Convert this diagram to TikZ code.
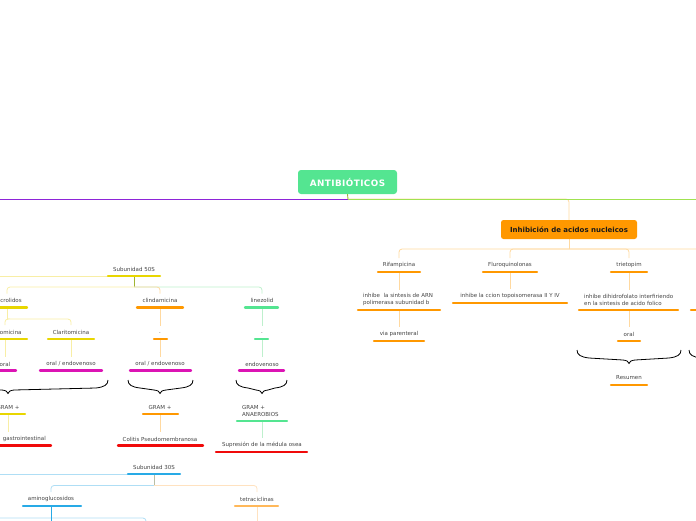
\documentclass[tikz,border=0pt]{standalone}
\usepackage{fontspec}
\setmainfont{DejaVu Sans}
\definecolor{rootg}{RGB}{84,229,145}
\definecolor{purp}{RGB}{142,36,216}
\definecolor{lgr}{RGB}{160,226,80}
\definecolor{oli}{RGB}{160,180,50}
\definecolor{org}{RGB}{255,152,0}
\definecolor{lor}{RGB}{255,217,160}
\definecolor{yel}{RGB}{232,214,0}
\definecolor{lye}{RGB}{248,238,165}
\definecolor{mag}{RGB}{220,20,180}
\definecolor{rd}{RGB}{240,10,10}
\definecolor{lgn}{RGB}{190,240,205}
\definecolor{blu}{RGB}{40,170,230}
\definecolor{lbl}{RGB}{175,222,245}
\definecolor{tor}{RGB}{255,184,90}
\definecolor{ltor}{RGB}{255,226,192}
\definecolor{gst}{RGB}{185,190,165}
\definecolor{txt}{RGB}{68,68,68}
\pgfdeclarelayer{bg}
\pgfsetlayers{bg,main}
\tikzset{
  lab/.style={font=\fontsize{5.5}{7}\selectfont, text=txt, inner sep=0pt},
  ul/.style={line width=2.4pt, line cap=round},
  con/.style={line width=0.8pt, rounded corners=3pt},
  brc/.style={line width=0.8pt, black},
  root/.style={fill=rootg, rounded corners=3pt, minimum width=99pt, minimum height=24pt, text=white, inner sep=0pt,
    font={\fontsize{8.8}{10}\selectfont\bfseries\addfontfeature{LetterSpace=5}}},
  inhbox/.style={fill=org, rounded corners=2.5pt, minimum width=136pt, minimum height=19pt, text=black!90, inner sep=0pt,
    font={\fontsize{7}{8}\selectfont\bfseries}},
}
\newcommand\tpc[8]{%
  \node[lab] (#1) at (#2,#3) {#4};
  \coordinate (#1-t) at (#2,{#3-7});
  \coordinate (#1-b) at (#2,#7);
  \draw[ul,#8] (#5,#7) -- (#6,#7);}
\newcommand\mybrace[4]{%
  \draw[brc] (#1,#3) .. controls (#1,{#3+5}) and ({#1+4},{#3+7}) .. ({#1+12},{#3+8})
    -- ({#4-6},{#3+10}) .. controls ({#4-2},{#3+10.5}) and ({#4-0.5},{#3+11.5}) .. (#4,{#3+13.5})
    .. controls ({#4+0.5},{#3+11.5}) and ({#4+2},{#3+10.5}) .. ({#4+6},{#3+10})
    -- ({#2-12},{#3+8}) .. controls ({#2-4},{#3+7}) and (#2,{#3+5}) .. (#2,#3);}
\begin{document}
\begin{tikzpicture}[x=1pt,y=-1pt]
\useasboundingbox (0,0) rectangle (696,520);
\clip (0,0) rectangle (696,520);

% ---------- root ----------
\node[root] (root) at (347.5,182) {ANTIBIÓTICOS};
\coordinate (rootb) at (348,199);
\coordinate (offL) at (-5,199);
\coordinate (offR) at (701,199);
\node[inhbox] (inh) at (569,229.5) {Inhibición de acidos nucleicos};
\coordinate (inhb) at (569,249);

% ---------- right branch ----------
\tpc{rif}{399}{265}{Rifampicina}{378}{420}{272}{org}
\tpc{flu}{510}{265}{Fluroquinolonas}{483}{537}{272}{org}
\tpc{tri}{629}{265}{trietopim}{611}{647}{272}{org}
\coordinate (offR2) at (745,275);
\node[lab, align=left, anchor=west] (rifd) at (363,299.5) {inhibe\ \ la sintesis de ARN\\polimerasa subunidad b};
\coordinate (rifd-t) at (399,290);
\coordinate (rifd-b) at (399,310);
\draw[ul,org] (358,310) -- (440,310);
\tpc{flud}{510}{296}{inhibe la ccion topoisomerasa II Y IV}{453}{567}{303}{org}
\node[lab, align=left, anchor=west] (trid) at (584,299.5) {inhibe dihidrofolato interfiriendo\\en la sintesis de acido folico};
\coordinate (trid-t) at (629,290);
\coordinate (trid-b) at (629,310);
\draw[ul,org] (579,310) -- (678,310);
\draw[ul,org] (691,310) -- (720,310);
\tpc{via}{399}{334}{via parenteral}{374}{424}{341}{org}
\tpc{oralt}{629}{334}{oral}{618}{640}{341}{org}
\mybrace{577}{681}{350}{629}
\mybrace{689}{793}{350}{741}
\tpc{res}{629}{378}{Resumen}{611}{647}{385}{org}

% ---------- Subunidad 50S ----------
\coordinate (in50) at (-5,276.5);
\tpc{s50}{134}{269}{Subunidad 50S}{108}{160}{276}{yel}
\coordinate (s50l) at (108,276.5);
\coordinate (bus50) at (134,287);
\tpc{mac}{7}{300.7}{Macrolidos}{-13}{27}{307.5}{yel}
\tpc{cli}{160}{300.7}{clindamicina}{137}{183}{307.5}{org}
\tpc{lin}{262}{300.7}{linezolid}{245}{278}{307.5}{rootg}
\coordinate (busmac) at (7,319);
\tpc{eri}{5}{332}{Eritromicina}{-18}{27}{339}{yel}
\tpc{cla}{71}{332}{Claritomicina}{48}{94}{339}{yel}
\tpc{erio}{5}{364}{oral}{-8}{16}{370.5}{mag}
\tpc{clao}{71}{364}{oral / endovenoso}{40}{102}{370.5}{mag}
\mybrace{-92}{108}{380}{8}
\tpc{g1}{8}{407}{GRAM +}{-9}{25}{414}{yel}
\coordinate (g1-b2) at (8,432);
\node[lab, anchor=east] (gi) at (46,439) {gastrointestinal};
\draw[ul,rd] (-35,445.5) -- (51,445.5);

\tpc{clid}{160}{332.7}{.}{154}{167}{339}{org}
\tpc{clio}{160}{364}{oral / endovenoso}{130}{191}{370.5}{mag}
\mybrace{128}{193}{380}{160}
\tpc{g2}{160}{407}{GRAM +}{143}{178}{414}{org}
\tpc{col}{160}{439}{Colitis Pseudomembranosa}{118}{203}{445.5}{rd}

\tpc{lind}{262}{332.7}{.}{255}{268}{339}{rootg}
\tpc{lino}{262}{364}{endovenoso}{239}{284}{370.5}{mag}
\mybrace{236}{287}{380}{262}
\node[lab, align=left, anchor=west] (g3) at (242,410.5) {GRAM +\\ANAEROBIOS};
\coordinate (g3-b) at (262,421);
\draw[ul,rootg] (237,421) -- (287,421);
\tpc{sup}{262}{445}{Supresión de la médula osea}{216}{307}{452}{rd}

% ---------- Subunidad 30S ----------
\coordinate (in30) at (-5,474);
\tpc{s30}{154}{467}{Subunidad 30S}{128}{180}{474}{blu}
\coordinate (s30l) at (128,474);
\coordinate (bus30) at (154,485.5);
\tpc{ami}{51}{499}{aminoglucosidos}{23}{81}{506}{blu}
\tpc{tet}{257}{499}{tetraciclinas}{235}{278}{506}{tor}
\coordinate (amibus) at (51,518);
\coordinate (amiL) at (-5,518);
\coordinate (amiR) at (146,535);
\coordinate (amiD) at (51,535);
\coordinate (tetD) at (257,535);

\begin{pgfonlayer}{bg}
  \draw[con,lor] (rootb) -| (inh.north);
  \draw[line width=0.9pt,purp] (rootb) -- (offL);
  \draw[line width=0.9pt,lgr] (rootb) -- (offR);
  \draw[line width=0.9pt,oli] (root.south) -- (rootb);
  \draw[con,lor] (inh.south) -- (inhb);
  \draw[con,lor] (inhb) -| (rif-t);
  \draw[con,lor] (inhb) -| (flu-t);
  \draw[con,lor] (inhb) -| (tri-t);
  \draw[con,lor] (inhb) -| (offR2);
  \draw[con,lor] (rif-b) -- (rifd-t);
  \draw[con,lor] (flu-b) -- (flud-t);
  \draw[con,lor] (tri-b) -- (trid-t);
  \draw[con,lor] (rifd-b) -- (via-t);
  \draw[con,lor] (trid-b) -- (oralt-t);
  % 50S
  \draw[con,lye] (in50) -- (s50l);
  \draw[line width=0.8pt,oli] (s50-b) -- (bus50);
  \draw[con,lye] (bus50) -| (mac-t);
  \draw[con,lgn] (bus50) -| (lin-t);
  \draw[con,lor] (bus50) -| (cli-t);
  \draw[con,lye] (mac-b) -- (busmac);
  \draw[con,lye] (busmac) -| (eri-t);
  \draw[con,lye] (busmac) -| (cla-t);
  \draw[con,lye] (eri-b) -- (erio-t);
  \draw[con,lye] (cla-b) -- (clao-t);
  \draw[con,lye] (g1-b) -- (g1-b2);
  \draw[con,lor] (cli-b) -- (clid-t);
  \draw[con,lor] (clid-b) -- (clio-t);
  \draw[con,lor] (g2-b) -- (col-t);
  \draw[con,lgn] (lin-b) -- (lind-t);
  \draw[con,lgn] (lind-b) -- (lino-t);
  \draw[con,lgn] (g3-b) -- (sup-t);
  % 30S
  \draw[con,lbl] (in30) -- (s30l);
  \draw[line width=0.8pt,gst] (s30-b) -- (bus30);
  \draw[con,lbl] (bus30) -| (ami-t);
  \draw[con,ltor] (bus30) -| (tet-t);
  \draw[con,lbl] (amiL) -| (amiR);
  \draw[line width=0.8pt,blu] (ami-b) -- (amiD);
  \draw[con,ltor] (tet-b) -- (tetD);
\end{pgfonlayer}
\end{tikzpicture}
\end{document}
